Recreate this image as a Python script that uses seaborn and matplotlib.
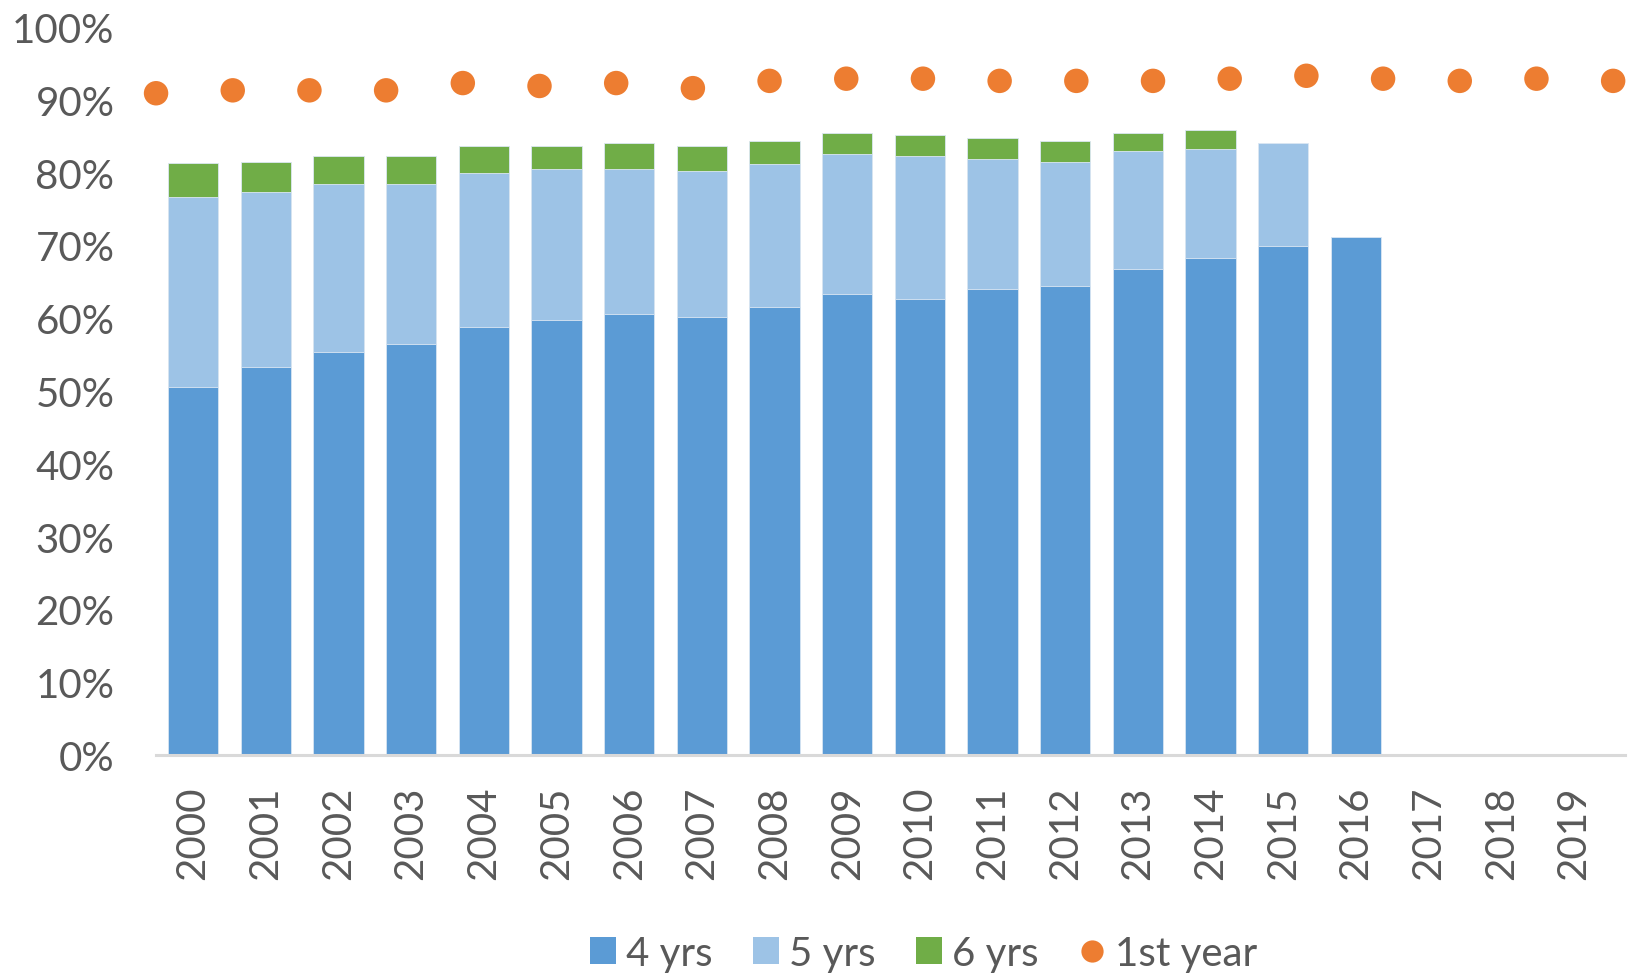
import numpy as np
import pandas as pd
import matplotlib
matplotlib.use("Agg")
import matplotlib.pyplot as plt
import seaborn as sns
from matplotlib.patches import Patch
from matplotlib.lines import Line2D

# cumulative graduation rate (%) by entering cohort
years = [str(y) for y in range(2000, 2020)]
within_4 = [50.6, 53.3, 55.4, 56.4, 58.8, 59.8, 60.6, 60.2, 61.6, 63.3,
            62.6, 64.0, 64.4, 66.8, 68.2, 69.9, 71.2, np.nan, np.nan, np.nan]
within_5 = [76.7, 77.4, 78.4, 78.4, 79.9, 80.5, 80.5, 80.2, 81.2, 82.6,
            82.3, 81.9, 81.5, 82.9, 83.3, 84.0, np.nan, np.nan, np.nan, np.nan]
within_6 = [81.3, 81.5, 82.3, 82.3, 83.7, 83.7, 84.0, 83.7, 84.3, 85.4,
            85.1, 84.7, 84.3, 85.4, 85.8, np.nan, np.nan, np.nan, np.nan, np.nan]
first_year = [90.9, 91.3, 91.3, 91.3, 92.3, 91.9, 92.3, 91.6, 92.6, 92.9,
              92.9, 92.6, 92.6, 92.6, 92.9, 93.3, 92.9, 92.6, 92.9, 92.6]

C4, C5, C6, CDOT = "#5B9BD5", "#9DC3E6", "#70AD47", "#ED7D31"
GRAY = "#595959"

df = pd.DataFrame({"year": years, "y4": within_4, "y5": within_5,
                   "y6": within_6, "first": first_year})

sns.set_theme(style="white")
plt.rcParams["font.family"] = ["Lato", "DejaVu Sans"]

fig = plt.figure(figsize=(16.29, 9.79), dpi=100)
ax = fig.add_axes([0.0958, 0.2278, 0.902, 0.7436])

# overlapping cumulative bars -> stacked look
for col, c in [("y6", C6), ("y5", C5), ("y4", C4)]:
    sns.barplot(data=df, x="year", y=col, order=years, color=c, width=0.69,
                saturation=1, errorbar=None, edgecolor="#dbe7f3",
                linewidth=0.6, ax=ax)

ax.set_xlim(-0.51, 19.71)
ax.set_ylim(0, 100)
ax.set_yticks(range(0, 101, 10))
ax.set_yticklabels([f"{v}%" for v in range(0, 101, 10)])
ax.set_xlabel("")
ax.set_ylabel("")
ax.tick_params(axis="y", length=0, pad=30, labelsize=29, labelcolor=GRAY)
ax.tick_params(axis="x", length=0, pad=22, labelsize=29, labelcolor=GRAY,
               labelrotation=90)
for s in ["top", "left", "right"]:
    ax.spines[s].set_visible(False)
ax.spines["bottom"].set_color("#d9d9d9")
ax.spines["bottom"].set_linewidth(2.2)

# first-year retention dots on their own x scale
ax2 = ax.twiny()
sns.scatterplot(x=[int(y) for y in years], y=first_year, ax=ax2, color=CDOT,
                s=310, marker="o", edgecolor="none", clip_on=False, zorder=5)
ax2.set_xlim(2000, 2019.16)
ax2.set_ylim(0, 100)
ax2.set_xticks([])
ax2.axis("off")

handles = [Patch(facecolor=C4, edgecolor="none", label="4 yrs"),
           Patch(facecolor=C5, edgecolor="none", label="5 yrs"),
           Patch(facecolor=C6, edgecolor="none", label="6 yrs"),
           Line2D([], [], marker="o", linestyle="none", markersize=16,
                  markerfacecolor=CDOT, markeredgecolor="none", label="1st year")]
leg = fig.legend(handles=handles, loc="center", bbox_to_anchor=(0.567, 0.025),
                 ncol=4, frameon=False, fontsize=29, handlelength=0.65,
                 handleheight=0.65, handletextpad=0.25, columnspacing=1.0)
for t in leg.get_texts():
    t.set_color(GRAY)

fig.savefig("out.png", dpi=100)
